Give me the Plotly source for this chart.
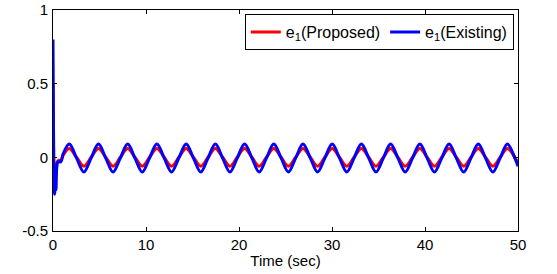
import plotly.graph_objects as go

# Time samples (s): start-up transient, then peaks / crossings / troughs of the steady oscillation
t_start_prop = [0.0, 0.05, 0.12, 0.2, 0.3, 0.45, 0.6, 0.85, 1.1]
t_start_exist = [0.0, 0.03, 0.1, 0.18, 0.25, 0.32, 0.42, 0.55, 0.85, 1.1]
t_wave = [1.75, 2.53, 3.32, 4.10, 4.89, 5.67, 6.46, 7.24, 8.03, 8.81, 9.60,
          10.38, 11.17, 11.96, 12.74, 13.53, 14.32, 15.10, 15.89, 16.67, 17.46,
          18.24, 19.03, 19.81, 20.60, 21.39, 22.17, 22.95, 23.74, 24.53, 25.31,
          26.09, 26.88, 27.67, 28.45, 29.23, 30.02, 30.81, 31.59, 32.37, 33.16,
          33.95, 34.73, 35.52, 36.30, 37.09, 37.87, 38.66, 39.45, 40.23, 41.02,
          41.80, 42.59, 43.37, 44.16, 44.94, 45.73, 46.51, 47.30, 48.08, 48.87,
          49.66, 50.0]

e1_prop_start = [0.5, 0.1, -0.2, -0.12, -0.07, -0.03, -0.02, -0.02, 0.015]
e1_exist_start = [0.8, 0.45, -0.1, -0.25, -0.12, -0.22, -0.06, -0.03, -0.03, 0.025]

e1_prop_wave = [0.06, 0.0, -0.06, 0.0, 0.06, 0.0, -0.06, 0.0, 0.06, 0.0, -0.06,
                0.0, 0.06, 0.0, -0.06, 0.0, 0.06, 0.0, -0.06, 0.0, 0.06,
                0.0, -0.06, 0.0, 0.06, 0.0, -0.06, 0.0, 0.06, 0.0, -0.06,
                0.0, 0.06, 0.0, -0.06, 0.0, 0.06, 0.0, -0.06, 0.0, 0.06,
                0.0, -0.06, 0.0, 0.06, 0.0, -0.06, 0.0, 0.06, 0.0, -0.06,
                0.0, 0.06, 0.0, -0.06, 0.0, 0.06, 0.0, -0.06, 0.0, 0.06,
                0.0, -0.04]
e1_exist_wave = [0.09, -0.005, -0.1, -0.005, 0.09, -0.005, -0.1, -0.005, 0.09, -0.005, -0.1,
                 -0.005, 0.09, -0.005, -0.1, -0.005, 0.09, -0.005, -0.1, -0.005, 0.09,
                 -0.005, -0.1, -0.005, 0.09, -0.005, -0.1, -0.005, 0.09, -0.005, -0.1,
                 -0.005, 0.09, -0.005, -0.1, -0.005, 0.09, -0.005, -0.1, -0.005, 0.09,
                 -0.005, -0.1, -0.005, 0.09, -0.005, -0.1, -0.005, 0.09, -0.005, -0.1,
                 -0.005, 0.09, -0.005, -0.1, -0.005, 0.09, -0.005, -0.1, -0.005, 0.09,
                 -0.005, -0.06]

x_ticks = [0, 10, 20, 30, 40, 50]
y_ticks = [-0.5, 0, 0.5, 1]
y_tick_labels = ["-0.5", "0", "0.5", "1"]

FONT = "Liberation Sans, Arial, sans-serif"

fig = go.Figure()
fig.add_trace(go.Scatter(
    x=t_start_prop + t_wave, y=e1_prop_start + e1_prop_wave,
    mode="lines", name="e<sub>1</sub>(Proposed)",
    line=dict(color="#ff0000", width=3, shape="spline", smoothing=1.0)))
fig.add_trace(go.Scatter(
    x=t_start_exist + t_wave, y=e1_exist_start + e1_exist_wave,
    mode="lines", name="e<sub>1</sub>(Existing)",
    line=dict(color="#0000ff", width=3, shape="spline", smoothing=1.0)))

axis_common = dict(showline=True, linecolor="black", linewidth=1, mirror="ticks",
                   ticks="inside", ticklen=4, tickcolor="black", showgrid=False,
                   zeroline=False, automargin=False,
                   tickfont=dict(family=FONT, size=15, color="black"))

fig.update_xaxes(range=[0, 50], tickvals=x_ticks, **axis_common,
                 title=dict(text="Time (sec)", standoff=3,
                            font=dict(family=FONT, size=15, color="black")))
fig.update_yaxes(range=[-0.5, 1], tickvals=y_ticks, ticktext=y_tick_labels,
                 ticklabelstandoff=1, **axis_common)

fig.update_layout(
    width=557, height=274,
    margin=dict(l=53, r=39, t=10, b=43, autoexpand=False),
    plot_bgcolor="white", paper_bgcolor="white",
    font=dict(family=FONT, size=15, color="black"),
    showlegend=True,
    legend=dict(orientation="h", x=0.991, y=0.982, xanchor="right", yanchor="top",
                bgcolor="white", bordercolor="black", borderwidth=1,
                font=dict(family=FONT, size=16, color="black"),
                itemwidth=30, tracegroupgap=0),
)

fig.write_html("out.html",
               config={"displayModeBar": False},
               post_script="document.body.style.margin='0';document.body.style.overflow='hidden';")
